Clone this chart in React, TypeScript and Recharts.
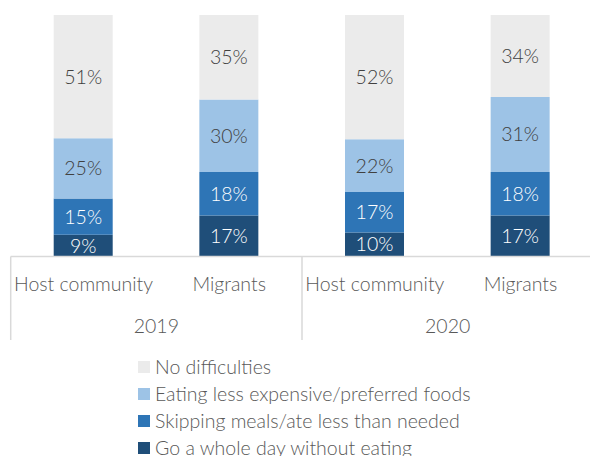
import React from 'react';
import { BarChart, Bar, XAxis, YAxis, LabelList } from 'recharts';

const categories = ['Host community', 'Migrants', 'Host community', 'Migrants'];
const years = ['2019', '2019', '2020', '2020'];
const goWholeDay = [9, 17, 10, 17];
const skippingMeals = [15, 18, 17, 18];
const eatingLess = [25, 30, 22, 31];
const noDifficulties = [51, 35, 52, 34];

const seriesDefs = [
  { key: 'go', name: 'Go a whole day without eating', values: goWholeDay, color: '#1F4E79', label: '#FFFFFF' },
  { key: 'skip', name: 'Skipping meals/ate less than needed', values: skippingMeals, color: '#2E75B6', label: '#FFFFFF' },
  { key: 'eat', name: 'Eating less expensive/preferred foods', values: eatingLess, color: '#9DC3E6', label: '#404040' },
  { key: 'none', name: 'No difficulties', values: noDifficulties, color: '#EBEBEB', label: '#404040' },
];

const data = categories.map((c, i) => {
  const row: any = { cat: c, idx: i, year: years[i] };
  seriesDefs.forEach((s) => { row[s.key] = s.values[i]; });
  return row;
});

const FONT = 'Lato, "Open Sans", sans-serif';
const FS = 19.5;
const FW = 300;
const CHART_W = 604;
const CHART_H = 456;
const M_LEFT = 10.7;
const M_RIGHT = 10.7;
const M_TOP = 15;
const PLOT_BOTTOM = 256.5;
const BAND = (CHART_W - M_LEFT - M_RIGHT) / categories.length;

const Tick = (props: any) => {
  const { x, payload } = props;
  const i = payload.index;
  const first = i === 0 || years[i] !== years[i - 1];
  return (
    <g>
      <text x={x} y={291} textAnchor="middle" fill="#595959" fontSize={FS} fontWeight={FW} fontFamily={FONT}>
        {categories[i]}
      </text>
      {first && (
        <g>
          <line x1={x - BAND / 2} x2={x - BAND / 2} y1={PLOT_BOTTOM} y2={340} stroke="#D9D9D9" strokeWidth={1.5} />
          <text x={x + BAND / 2} y={333} textAnchor="middle" fill="#595959" fontSize={FS} fontWeight={FW} fontFamily={FONT}>
            {years[i]}
          </text>
        </g>
      )}
    </g>
  );
};

const legendOrder = [...seriesDefs].reverse();

export default function App() {
  return (
    <div style={{ position: 'absolute', left: 0, top: 0, width: 590, height: 456, overflow: 'hidden', background: '#fff' }}>
      <BarChart
        width={CHART_W}
        height={CHART_H}
        data={data}
        stackOffset="expand"
        margin={{ top: M_TOP, right: M_RIGHT, left: M_LEFT, bottom: 0 }}
      >
        <XAxis
          dataKey="idx"
          type="category"
          height={CHART_H - PLOT_BOTTOM}
          axisLine={{ stroke: '#D9D9D9', strokeWidth: 1.5 }}
          tickLine={false}
          tick={<Tick />}
          interval={0}
        />
        <YAxis hide domain={[0, 1]} />
        {seriesDefs.map((s) => (
          <Bar key={s.key} dataKey={s.key} name={s.name} stackId="a" fill={s.color} barSize={59} isAnimationActive={false}>
            <LabelList
              dataKey={s.key}
              position="center"
              formatter={(v: any) => `${v}%`}
              fill={s.label}
              fontSize={FS}
              fontWeight={FW}
              fontFamily={FONT}
            />
          </Bar>
        ))}
      </BarChart>
      <div style={{ position: 'absolute', left: 138, top: 353, fontFamily: FONT, fontSize: FS, fontWeight: FW, color: '#595959', lineHeight: '27px' }}>
        {legendOrder.map((s) => (
          <div key={s.key} style={{ display: 'flex', alignItems: 'center', height: 27, whiteSpace: 'nowrap' }}>
            <span style={{ display: 'inline-block', width: 12, height: 12, background: s.color, marginRight: 5, flexShrink: 0 }} />
            <span>{s.name}</span>
          </div>
        ))}
      </div>
    </div>
  );
}
